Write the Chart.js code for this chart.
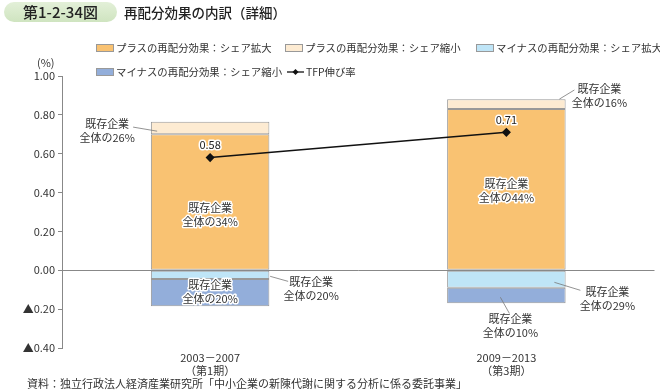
<!DOCTYPE html>
<html>
<head>
<meta charset="utf-8">
<script src="https://cdn.jsdelivr.net/npm/chart.js@4/dist/chart.umd.min.js"></script>
<style>
  body { margin: 0; background: #fff; font-family: "Noto Sans CJK JP", "Noto Sans", sans-serif; color: #333; }
  #wrap { position: relative; width: 660px; height: 392px; overflow: hidden; }
  canvas { position: absolute; left: 0; top: 0; }
  .abs { position: absolute; white-space: nowrap; font-size: 11px; line-height: 14px; }
  .lg { font-size: 10.4px; }
  #pill { position: absolute; left: 4px; top: 2px; width: 113px; height: 20px; border-radius: 10px;
          background: linear-gradient(#e3f0d8, #cfe4c0); font-size: 15px; font-weight: 500; line-height: 20px; text-align: center; color: #222; }
  #title { left: 124px; top: 3px; font-size: 13.5px; font-weight: 500; line-height: 18px; color: #222; }
  .box { display: inline-block; width: 16px; height: 6px; border: 1px solid #999; vertical-align: middle; margin-right: 2px; position: relative; top: -1px; }
</style>
</head>
<body>
<div id="wrap">
  <canvas id="chart" width="660" height="392"></canvas>
  <div id="pill">第1-2-34図</div>
  <div id="title" class="abs">再配分効果の内訳（詳細）</div>
  <div class="abs" style="left:37px;top:55px;">(%)</div>
  <div id="legend"></div>
  <div class="abs" style="left:27px;top:376px;">資料：独立行政法人経済産業研究所「中小企業の新陳代謝に関する分析に係る委託事業」</div>
</div>
<script>
// data
const categories = [["2003－2007", "（第1期）"], ["2009－2013", "（第3期）"]];
const plusExpand = [0.70, 0.83];
const plusShrink = [0.065, 0.05];
const minusExpand = [-0.045, -0.09];
const minusShrink = [-0.14, -0.08];
const tfpGrowth = [0.58, 0.71];
const yTicks = [1.0, 0.8, 0.6, 0.4, 0.2, 0.0, -0.2, -0.4];

const seriesNames = ["プラスの再配分効果：シェア拡大", "プラスの再配分効果：シェア縮小", "マイナスの再配分効果：シェア拡大", "マイナスの再配分効果：シェア縮小", "TFP伸び率"];
const colors = ["#F9C272", "#FDEBD2", "#BFE5F7", "#93AEDA"];

// notes: category index, text offset (px) and value, leader line ends
const notes = [
  { i: 0, dx: -103, v: 0.716, text: ["既存企業", "全体の26%"], line: [[-77, 0.737], [-53, 0.716]] },
  { i: 0, dx: 0, v: 0.284, text: ["既存企業", "全体の34%"], halo: true },
  { i: 0, dx: 0, v: -0.113, text: ["既存企業", "全体の20%"], halo: true },
  { i: 0, dx: 101, v: -0.093, text: ["既存企業", "全体の20%"], line: [[60, -0.031], [78, -0.057]] },
  { i: 1, dx: 93, v: 0.90, text: ["既存企業", "全体の16%"], line: [[53, 0.881], [68, 0.928]] },
  { i: 1, dx: 0, v: 0.41, text: ["既存企業", "全体の44%"], halo: true },
  { i: 1, dx: 101, v: -0.149, text: ["既存企業", "全体の29%"], line: [[48, -0.062], [74, -0.103]] },
  { i: 1, dx: 4, v: -0.286, text: ["既存企業", "全体の10%"], line: [[-6, -0.139], [3, -0.222]] }
];

// legend (html)
const legendPos = [[96, 41], [285, 41], [476, 41], [96, 65]];
let lg = "";
legendPos.forEach((p, k) => {
  lg += `<div class="abs lg" style="left:${p[0]}px;top:${p[1]}px;"><span class="box" style="background:${colors[k]}"></span>${seriesNames[k]}</div>`;
});
lg += `<div class="abs lg" style="left:287px;top:65px;"><svg width="17" height="8" style="vertical-align:middle;position:relative;top:-1px;margin-right:2px"><line x1="0" y1="4" x2="17" y2="4" stroke="#111" stroke-width="1.3"/><path d="M8.5 1 L11.5 4 L8.5 7 L5.5 4 Z" fill="#111"/></svg>${seriesNames[4]}</div>`;
document.getElementById("legend").innerHTML = lg;

const font = "Noto Sans CJK JP";

const notePlugin = {
  id: "notes",
  afterDatasetsDraw(chart) {
    const ctx = chart.ctx;
    const xs = chart.scales.x, ys = chart.scales.y;
    ctx.save();
    ctx.font = `11px "${font}"`;
    ctx.textAlign = "center";
    ctx.textBaseline = "middle";
    notes.forEach(n => {
      const cx = xs.getPixelForValue(n.i);
      if (n.line) {
        ctx.strokeStyle = "#777";
        ctx.lineWidth = 0.8;
        ctx.beginPath();
        ctx.moveTo(cx + n.line[0][0], ys.getPixelForValue(n.line[0][1]));
        ctx.lineTo(cx + n.line[1][0], ys.getPixelForValue(n.line[1][1]));
        ctx.stroke();
      }
      const y = ys.getPixelForValue(n.v);
      n.text.forEach((t, k) => {
        const ty = y + (k - 0.5) * 14;
        if (n.halo) {
          ctx.strokeStyle = "#fff";
          ctx.lineWidth = 3;
          ctx.lineJoin = "round";
          ctx.strokeText(t, cx + n.dx, ty);
        }
        ctx.fillStyle = "#333";
        ctx.fillText(t, cx + n.dx, ty);
      });
    });
    // TFP values
    const meta = chart.getDatasetMeta(4);
    meta.data.forEach((pt, k) => {
      const t = tfpGrowth[k].toFixed(2);
      ctx.strokeStyle = "#fff";
      ctx.lineWidth = 3;
      ctx.strokeText(t, pt.x, pt.y - 13);
      ctx.fillStyle = "#222";
      ctx.fillText(t, pt.x, pt.y - 13);
    });
    ctx.restore();
  }
};

const barSet = (k, data) => ({
  type: "bar",
  label: seriesNames[k],
  data: data,
  backgroundColor: colors[k],
  borderColor: "#999",
  borderWidth: 1,
  borderSkipped: false,
  barPercentage: 1,
  categoryPercentage: 0.4,
  order: 1
});

new Chart(document.getElementById("chart"), {
  data: {
    labels: categories,
    datasets: [
      barSet(0, plusExpand),
      barSet(1, plusShrink),
      barSet(2, minusExpand),
      barSet(3, minusShrink),
      {
        type: "line",
        label: seriesNames[4],
        data: tfpGrowth,
        stack: "tfp",
        borderColor: "#111",
        backgroundColor: "#111",
        borderWidth: 1.5,
        pointStyle: "rectRot",
        pointRadius: 3.5,
        order: 0
      }
    ]
  },
  options: {
    responsive: false,
    animation: false,
    layout: { padding: { top: 76, right: 2, bottom: 14, left: 0 } },
    plugins: { legend: { display: false }, tooltip: { enabled: false } },
    scales: {
      x: {
        stacked: true,
        grid: { display: false },
        border: { display: false },
        ticks: { color: "#333", font: { family: font, size: 11, lineHeight: 1.2 }, padding: -5, maxRotation: 0 },
        afterFit: s => { s.height = 30; }
      },
      y: {
        stacked: true,
        min: -0.4,
        max: 1.0,
        afterBuildTicks: s => { s.ticks = yTicks.map(v => ({ value: v })); },
        ticks: {
          color: "#333",
          font: { family: font, size: 11 },
          padding: 3,
          callback: v => (v < 0 ? "▲" + Math.abs(v).toFixed(2) : v.toFixed(2))
        },
        grid: {
          color: c => (c.tick && c.tick.value === 0 ? "#888" : "transparent"),
          tickColor: "#888",
          tickLength: 4,
          lineWidth: 1
        },
        border: { color: "#888" },
        afterFit: s => { s.width = 62; }
      }
    }
  },
  plugins: [notePlugin]
});
</script>
</body>
</html>
